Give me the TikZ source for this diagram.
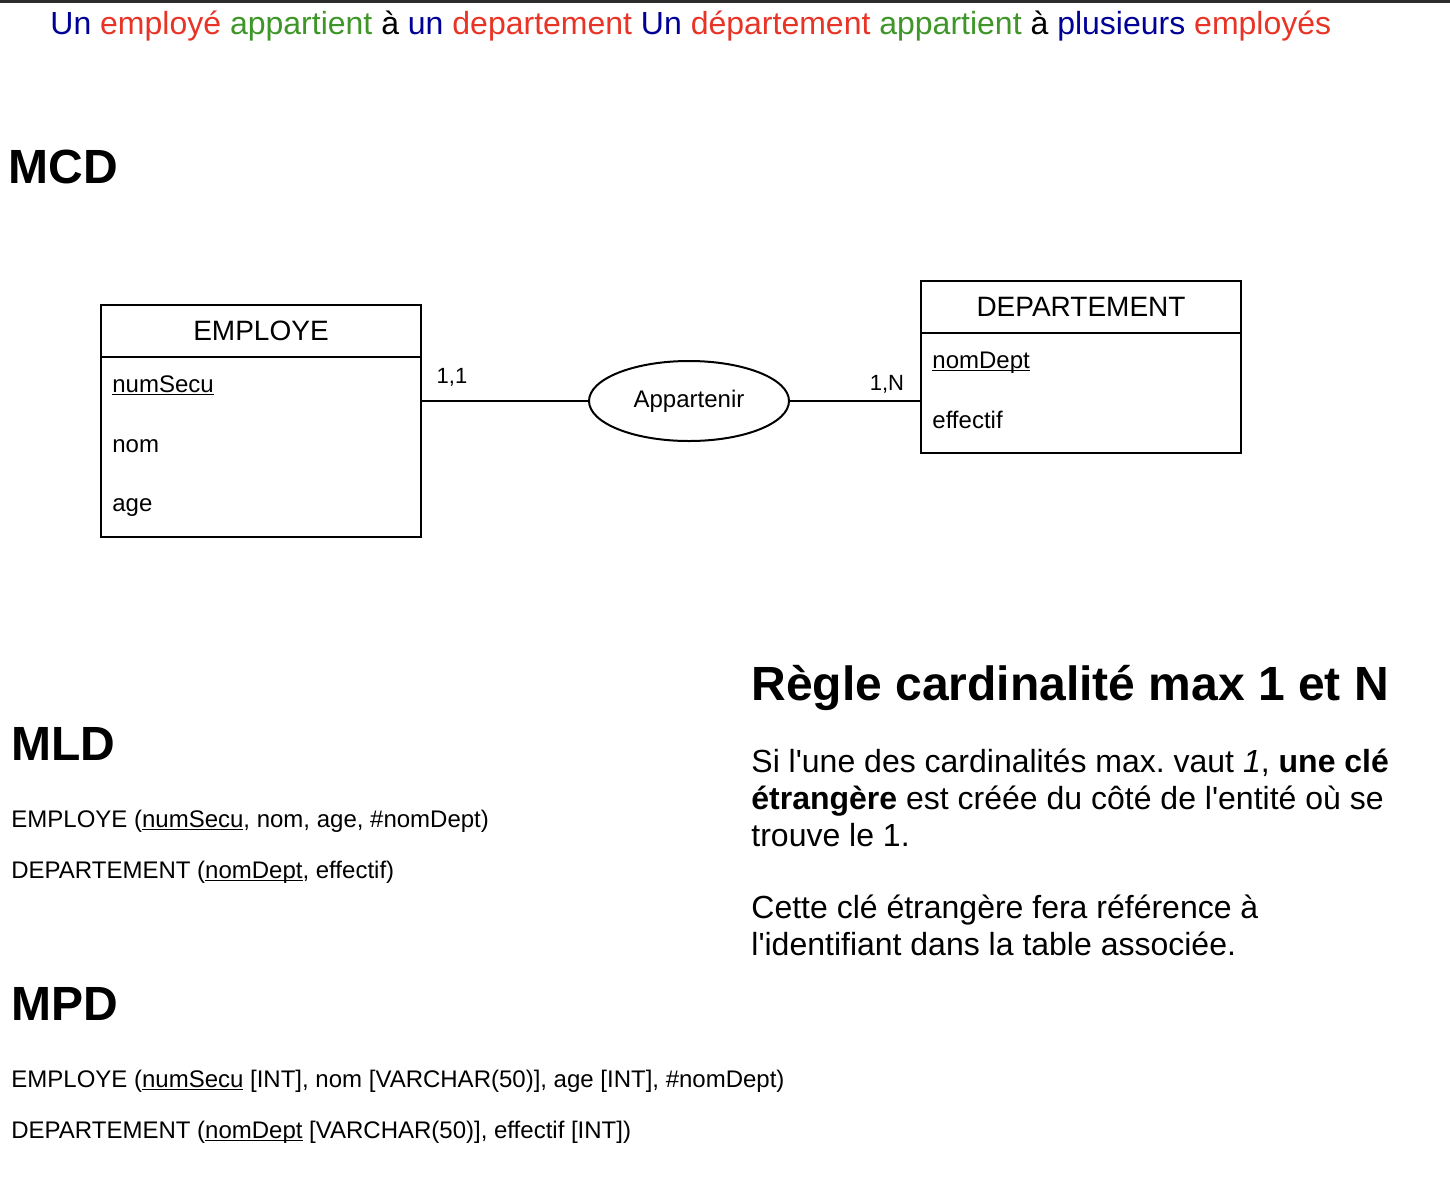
\documentclass[tikz,border=0pt]{standalone}
\usepackage{fontspec}
\setmainfont{Liberation Sans}[Ligatures=TeXOff]
\usetikzlibrary{shapes.geometric, positioning, calc}
\usepackage{xcolor}
\definecolor{motbleu}{RGB}{0,0,150}
\definecolor{motrouge}{RGB}{232,52,38}
\definecolor{motvert}{RGB}{62,150,40}
\definecolor{barre}{RGB}{45,45,45}
\newcommand{\souligne}[1]{\setbox0=\hbox{#1}\rlap{\rule[-0.13em]{\wd0}{0.065em}}\box0\relax}
\frenchspacing

\begin{document}
\begin{tikzpicture}[x=0.5pt, y=-0.5pt]
    % Define styles
    \tikzset{
        entity head/.style={
            rectangle,
            minimum width=160pt,
            minimum height=26pt,
            draw=black,
            line width=1pt,
            inner sep=0pt,
            outer sep=0pt,
            font=\fontsize{14}{16}\selectfont
        },
        entity body/.style={
            rectangle,
            minimum width=160pt,
            draw=black,
            line width=1pt,
            inner sep=0pt,
            outer sep=0pt
        },
        assoc/.style={
            ellipse,
            minimum width=100pt,
            minimum height=40pt,
            draw=black,
            line width=1pt,
            inner sep=0pt,
            outer sep=0pt,
            font=\fontsize{12}{14}\selectfont
        },
        attr/.style={anchor=base west, inner sep=0pt, font=\fontsize{12}{14}\selectfont},
        card/.style={anchor=base, inner sep=0pt, font=\fontsize{11}{13}\selectfont},
        heading/.style={anchor=base west, inner sep=0pt, font=\fontsize{24}{28}\selectfont\bfseries},
        text line/.style={anchor=base west, inner sep=0pt, font=\fontsize{12}{14}\selectfont},
        rule text/.style={anchor=base west, inner sep=0pt, align=left, font=\fontsize{16}{18.5}\selectfont},
        link/.style={line width=1pt}
    }

    \useasboundingbox (0,0) rectangle (1450,1180);
    \fill[barre] (0,0) rectangle (1450,3);

    % Sentence at the top
    \node[anchor=base west, inner sep=0pt, font=\fontsize{16}{19}\selectfont] (phrase) at (50,34)
        {\textcolor{motbleu}{Un} \textcolor{motrouge}{employé} \textcolor{motvert}{appartient} à
         \textcolor{motbleu}{un} \textcolor{motrouge}{departement} \textcolor{motbleu}{Un}
         \textcolor{motrouge}{département} \textcolor{motvert}{appartient} à
         \textcolor{motbleu}{plusieurs} \textcolor{motrouge}{employés}};

    % MCD
    \node[heading] (mcd) at (8,183) {MCD};

    % Entity EMPLOYE
    \node[entity head, anchor=north west] (empHead) at (101,305) {EMPLOYE};
    \node[entity body, minimum height=90pt, below=0pt of empHead] (empBody) {};
    \node[attr] (numSecu) at (112,392) {\souligne{numSecu}};
    \node[attr] (nom) at (112,452) {nom};
    \node[attr] (age) at (112,511) {age};

    % Entity DEPARTEMENT
    \node[entity head, anchor=north west] (deptHead) at (921,281) {DEPARTEMENT};
    \node[entity body, minimum height=60pt, below=0pt of deptHead] (deptBody) {};
    \node[attr] (nomDept) at (932,368) {\souligne{nomDept}};
    \node[attr] (effectif) at (932,428) {effectif};

    % Association
    \node[assoc] (appartenir) at (689,401) {Appartenir};
    \draw[link] (appartenir.west) -- (appartenir.west -| empBody.east);
    \draw[link] (appartenir.east) -- (appartenir.east -| deptBody.west);
    \node[card] (cardEmp) at (452,383) {1,1};
    \node[card] (cardDept) at (887,390) {1,N};

    % MLD
    \node[heading] (mld) at (11,760) {MLD};
    \node[text line] (mldEmp) at (11,827) {EMPLOYE (\souligne{numSecu}, nom, age, \#nomDept)};
    \node[text line] (mldDept) at (11,878) {DEPARTEMENT (\souligne{nomDept}, effectif)};

    % MPD
    \node[heading] (mpd) at (11,1020) {MPD};
    \node[text line] (mpdEmp) at (11,1087) {EMPLOYE (\souligne{numSecu} [INT], nom [VARCHAR(50)], age [INT], \#nomDept)};
    \node[text line] (mpdDept) at (11,1138) {DEPARTEMENT (\souligne{nomDept} [VARCHAR(50)], effectif [INT])};

    % Rule (base = last line)
    \node[heading] (regle) at (751,700) {Règle cardinalité max 1 et N};
    \node[rule text] (regleA) at (751,846)
        {Si l'une des cardinalités max. vaut \textit{1}, \textbf{une clé}\\
         \textbf{étrangère} est créée du côté de l'entité où se\\
         trouve le 1.};
    \node[rule text] (regleB) at (751,955)
        {Cette clé étrangère fera référence à\\
         l'identifiant dans la table associée.};

\end{tikzpicture}
\end{document}
